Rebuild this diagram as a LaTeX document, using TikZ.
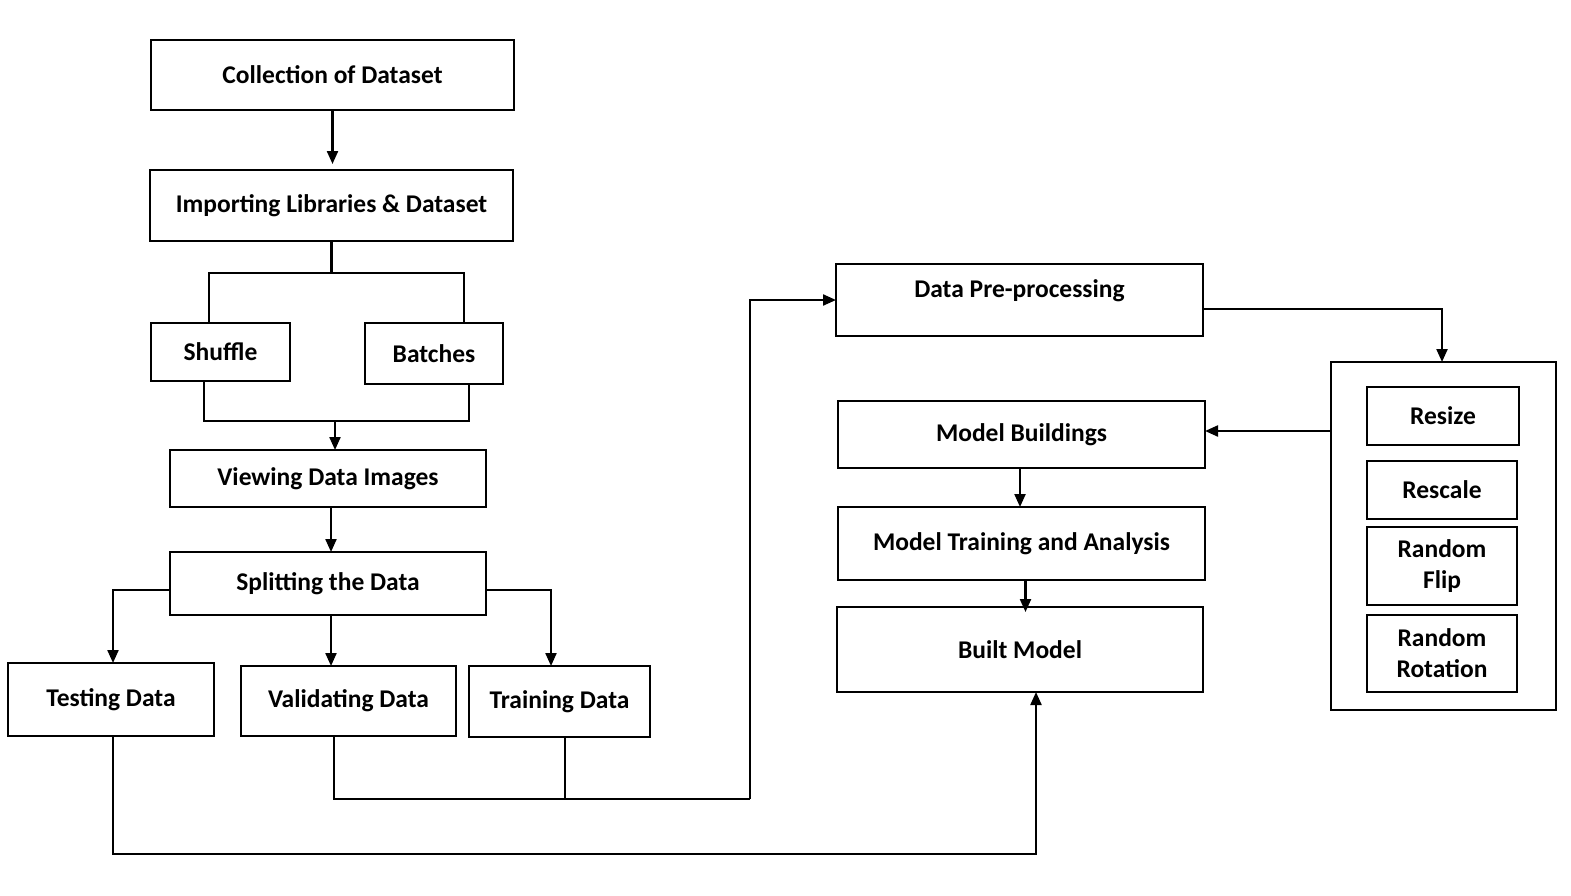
\documentclass[tikz,border=0pt]{standalone}
\usepackage{fontspec}
\setmainfont{Carlito}
\usetikzlibrary{arrows.meta}
\tikzset{
  box/.style={draw, line width=2.2pt, inner sep=0pt, outer sep=0pt, font=\bfseries\fontsize{25.5}{31}\selectfont, align=center},
  ln/.style={line width=2.2pt},
  arr/.style={line width=2.2pt, -{Triangle[length=13pt,width=11pt]}}
}
\begin{document}
\begin{tikzpicture}[x=1pt,y=-1pt]
\useasboundingbox (0,0) rectangle (1571,895);
% left column
\node[box, minimum width=363, minimum height=70] (coll) at (332.5,75) {Collection of Dataset};
\node[box, minimum width=363, minimum height=71] (imp) at (331.5,205.5) {Importing Libraries \& Dataset};
\node[box, minimum width=139, minimum height=58] (shuf) at (220.5,352) {Shuffle};
\node[box, minimum width=138, minimum height=61] (bat) at (434,353.5) {Batches};
\node[box, minimum width=316, minimum height=57] (view) at (328,478.5) {Viewing Data Images};
\node[box, minimum width=316, minimum height=63] (split) at (328,583.5) {Splitting the Data};
\node[box, minimum width=206, minimum height=73] (test) at (111,699.5) {Testing Data};
\node[box, minimum width=215, minimum height=70] (val) at (348.5,701) {Validating Data};
\node[box, minimum width=181, minimum height=71] (train) at (559.5,701.5) {Training Data};
% right part
\node[box, minimum width=367, minimum height=72] (pre) at (1019.5,300) {};
\node[font=\bfseries\fontsize{25.5}{31}\selectfont, inner sep=0pt] (pretext) at (1019.5,291) {Data Pre-processing};
\node[box, minimum width=367, minimum height=67] (mb) at (1021.5,434.5) {Model Buildings};
\node[box, minimum width=367, minimum height=73] (mt) at (1021.5,543.5) {Model Training and Analysis};
\node[box, minimum width=366, minimum height=85] (built) at (1020,649.5) {Built Model};
\node[box, minimum width=225, minimum height=348] (big) at (1443.5,536) {};
\node[box, minimum width=152, minimum height=58] (resize) at (1443,416) {Resize};
\node[box, minimum width=150, minimum height=58] (rescale) at (1442,490) {Rescale};
\node[box, minimum width=150, minimum height=78] (flip) at (1442,566) {Random\\Flip};
\node[box, minimum width=150, minimum height=77] (rot) at (1442,653.5) {Random\\Rotation};
% coordinates
\coordinate (j1) at (334,273);
\coordinate (j2) at (335,421);
\coordinate (j3) at (750,799);
\coordinate (j4) at (1036,854);
% connectors
\draw[arr, shorten >=6pt] (coll.south) -- (coll.south |- imp.north);
\draw[ln] (imp.south) -- (imp.south |- j1);
\draw[ln] ([xshift=-11.5]shuf.north) |- (j1) -| ([xshift=30]bat.north);
\draw[ln] ([xshift=-16.5]shuf.south) |- (j2) -| ([xshift=35]bat.south);
\draw[arr] (j2) -- (j2 |- view.north);
\draw[arr] ([xshift=3]view.south) -- ([xshift=3]split.north);
\draw[arr] ([yshift=-6.5]split.west) -| ([xshift=2]test.north);
\draw[arr] ([xshift=3]split.south) -- ([xshift=3]split.south |- val.north);
\draw[arr] ([yshift=-6.5]split.east) -| ([xshift=-8.5]train.north);
\draw[ln] ([xshift=-14.5]val.south) |- (j3);
\draw[ln] ([xshift=5.5]train.south) -- ([xshift=5.5]train.south |- j3);
\draw[arr] (j3) |- (pre.west);
\draw[arr] ([xshift=2]test.south) |- (j4) -- (j4 |- built.south);
\draw[arr] ([yshift=-9]pre.east) -| ([xshift=-1.5]big.north);
\draw[arr] (big.west |- 0,431) -- (mb.east |- 0,431);
\draw[arr] ([xshift=-1.5]mb.south) -- ([xshift=-1.5]mb.south |- mt.north);
\draw[arr] ([xshift=4]mt.south) -- ++(0,32);
\end{tikzpicture}
\end{document}
